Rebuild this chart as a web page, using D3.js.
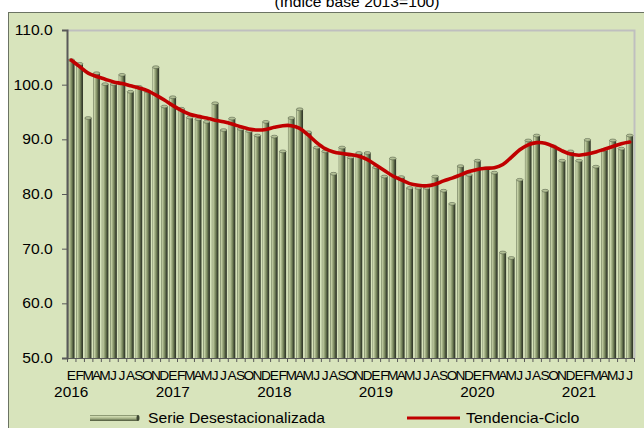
<!DOCTYPE html>
<html>
<head>
<meta charset="utf-8">
<script src="https://cdn.jsdelivr.net/npm/d3@7"></script>
<style>
	body { margin: 0; background: #ffffff; }
	svg { display: block; font-family: Arial, "Liberation Sans", sans-serif; }
	.axis path, .axis line { stroke: #595959; }
</style>
</head>
<body>
<svg width="644" height="428"></svg>
<script>
// Serie mensual ene-2016 a jul-2021
const meses = ["E", "F", "M", "A", "M", "J", "J", "A", "S", "O", "N", "D"];
const anios = ["2016", "2017", "2018", "2019", "2020", "2021"];
const yTicks = [50, 60, 70, 80, 90, 100, 110];

const serieDesestacionalizada = [
	104.5, 103.8, 93.9, 102.1, 100.1, 100.1, 101.8, 98.7, 99.6, 98.8, 103.2, 96.0,
	97.7, 95.6, 94.0, 93.7, 93.2, 96.6, 91.7, 93.8, 91.9, 91.5, 90.7, 93.2,
	90.5, 87.8, 93.9, 95.5, 91.3, 88.5, 87.8, 83.7, 88.5, 86.7, 87.5, 87.5,
	84.9, 83.2, 86.5, 83.1, 81.1, 81.1, 81.1, 83.2, 80.6, 78.2, 85.1, 83.5,
	86.1, 84.7, 83.9, 69.3, 68.3, 82.6, 89.8, 90.7, 80.6, 88.7, 86.1, 87.8,
	86.1, 89.9, 85.0, 88.1, 89.8, 88.3, 90.7
];

const tendenciaCiclo = [
	104.5, 103.3, 102.1, 101.5, 101.0, 100.5, 100.2, 99.8, 99.4, 98.9, 98.1, 97.2,
	96.2, 95.3, 94.6, 94.2, 93.9, 93.5, 93.2, 92.8, 92.3, 91.9, 91.7, 91.8,
	92.2, 92.5, 92.5, 92.0, 90.8, 89.4, 88.3, 87.7, 87.4, 87.2, 86.9, 86.3,
	85.3, 84.3, 83.3, 82.6, 81.9, 81.6, 81.5, 81.8, 82.4, 82.9, 83.5, 84.1,
	84.5, 84.7, 84.8, 85.4, 86.7, 88.1, 89.0, 89.4, 89.3, 88.7, 87.9, 87.3,
	87.1, 87.3, 87.7, 88.2, 88.7, 89.2, 89.5
];

const plot = { left: 67, right: 634, top: 30, bottom: 358 };
const stretch = 1.12;	// the source text is a bit wider than Arial

const svg = d3.select("svg");

const idx = d3.range(serieDesestacionalizada.length);

const x = d3.scaleBand()
	.domain(idx)
	.range([plot.left, plot.right])
	.paddingInner(0.22)
	.paddingOuter(0.11);

const xStep = d3.scaleBand()
	.domain(idx)
	.range([plot.left, plot.right]);

const y = d3.scaleLinear()
	.domain([50, 110])
	.range([plot.bottom, plot.top]);

// widen a text around its own x
function widen(sel, k) {
	sel.attr("transform", function() {
		const x0 = +d3.select(this).attr("x") || 0;
		return "translate(" + x0 + ",0) scale(" + k + ",1) translate(" + (-x0) + ",0)";
	});
}

// gradients
const defs = svg.append("defs");

const barGrad = defs.append("linearGradient")
	.attr("id", "barGrad")
	.attr("x1", "0%").attr("x2", "100%").attr("y1", "0%").attr("y2", "0%");
[["0%", "#5e6a4c"], ["14%", "#c9d5aa"], ["34%", "#a2af84"], ["58%", "#76845b"], ["82%", "#414a35"], ["100%", "#2e3426"]]
	.forEach(function(s) { barGrad.append("stop").attr("offset", s[0]).attr("stop-color", s[1]); });

const legGrad = defs.append("linearGradient")
	.attr("id", "legGrad")
	.attr("x1", "0%").attr("x2", "0%").attr("y1", "0%").attr("y2", "100%");
[["0%", "#6f7c58"], ["25%", "#cdd8ae"], ["60%", "#a2af84"], ["100%", "#4a5439"]]
	.forEach(function(s) { legGrad.append("stop").attr("offset", s[0]).attr("stop-color", s[1]); });

// chart area
svg.append("rect")
	.attr("x", 8.5)
	.attr("y", 12.5)
	.attr("width", 640)
	.attr("height", 420)
	.attr("fill", "#d8e4bc")
	.attr("stroke", "#6b7363")
	.attr("stroke-width", 1);

svg.append("text")
	.attr("x", 357)
	.attr("y", 7)
	.attr("text-anchor", "middle")
	.attr("font-size", "14px")
	.attr("fill", "#000")
	.text("(Índice base 2013=100)")
	.call(widen, stretch);

// plot frame (top / right)
svg.append("path")
	.attr("d", "M" + plot.left + "," + (plot.top + 0.5) + "H" + (plot.right + 0.5) + "V" + plot.bottom)
	.attr("fill", "none")
	.attr("stroke", "#bfbfbf")
	.attr("stroke-width", 2);

// bars
const bars = svg.append("g").attr("class", "bars");

bars.selectAll("rect")
	.data(serieDesestacionalizada)
	.enter().append("rect")
	.attr("x", function(d, i) { return x(i); })
	.attr("y", function(d) { return y(d); })
	.attr("width", x.bandwidth())
	.attr("height", function(d) { return plot.bottom - y(d); })
	.attr("fill", "url(#barGrad)");

bars.selectAll("ellipse")
	.data(serieDesestacionalizada)
	.enter().append("ellipse")
	.attr("cx", function(d, i) { return x(i) + x.bandwidth() / 2; })
	.attr("cy", function(d) { return y(d); })
	.attr("rx", x.bandwidth() / 2)
	.attr("ry", 1.4)
	.attr("fill", "#b4c197")
	.attr("stroke", "#4b5540")
	.attr("stroke-width", 0.5);

// trend line
const line = d3.line()
	.x(function(d, i) { return x(i) + x.bandwidth() / 2; })
	.y(function(d) { return y(d); })
	.curve(d3.curveCatmullRom.alpha(0.5));

svg.append("path")
	.datum(tendenciaCiclo)
	.attr("d", line)
	.attr("fill", "none")
	.attr("stroke", "#c00000")
	.attr("stroke-width", 3.6)
	.attr("stroke-linecap", "round");

// y axis
const yAxis = d3.axisLeft(y)
	.tickValues(yTicks)
	.tickSize(5)
	.tickPadding(9)
	.tickFormat(d3.format(".1f"));

svg.append("g")
	.attr("class", "y axis")
	.attr("transform", "translate(" + plot.left + ",0)")
	.call(yAxis)
	.call(function(g) {
		g.select(".domain").attr("stroke-width", 2);
		g.selectAll("text")
			.attr("x", -14.3 / stretch)
			.attr("font-size", "14px")
			.attr("fill", "#000")
			.attr("transform", "scale(" + stretch + ",1)");
	});

// x axis: ticks at band boundaries
const xg = svg.append("g").attr("class", "x axis");

xg.append("line")
	.attr("x1", plot.left).attr("x2", plot.right)
	.attr("y1", plot.bottom + 0.5).attr("y2", plot.bottom + 0.5)
	.attr("stroke", "#595959");

xg.selectAll(".tick")
	.data(idx.concat([idx.length]))
	.enter().append("line")
	.attr("class", "tick")
	.attr("x1", function(d) { return d < idx.length ? xStep(d) + 0.5 : plot.right + 0.5; })
	.attr("x2", function(d) { return d < idx.length ? xStep(d) + 0.5 : plot.right + 0.5; })
	.attr("y1", plot.bottom)
	.attr("y2", plot.bottom + 4)
	.attr("stroke", "#595959");

xg.selectAll(".mes")
	.data(idx)
	.enter().append("text")
	.attr("class", "mes")
	.attr("x", function(d) { return xStep(d) + xStep.bandwidth() / 2; })
	.attr("y", 380)
	.attr("text-anchor", "middle")
	.attr("font-size", "12.5px")
	.attr("fill", "#000")
	.text(function(d) { return meses[d % 12]; })
	.call(widen, 1.1);

xg.selectAll(".anio")
	.data(anios)
	.enter().append("text")
	.attr("class", "anio")
	.attr("x", function(d, i) { return xStep(i * 12) + xStep.bandwidth() / 2; })
	.attr("y", 397.5)
	.attr("text-anchor", "middle")
	.attr("font-size", "14px")
	.attr("fill", "#000")
	.text(function(d) { return d; })
	.call(widen, 1.1);

// legend
const legend = svg.append("g").attr("class", "legend");

legend.append("rect")
	.attr("x", 90)
	.attr("y", 415)
	.attr("width", 48)
	.attr("height", 6)
	.attr("fill", "url(#legGrad)");

legend.append("ellipse")
	.attr("cx", 138)
	.attr("cy", 418)
	.attr("rx", 1.5)
	.attr("ry", 3)
	.attr("fill", "#3c4532");

legend.append("text")
	.attr("x", 148)
	.attr("y", 423)
	.attr("font-size", "14px")
	.attr("fill", "#000")
	.text("Serie Desestacionalizada")
	.call(widen, stretch);

legend.append("line")
	.attr("x1", 407).attr("x2", 460)
	.attr("y1", 418).attr("y2", 418)
	.attr("stroke", "#c00000")
	.attr("stroke-width", 3);

legend.append("text")
	.attr("x", 466)
	.attr("y", 423)
	.attr("font-size", "14px")
	.attr("fill", "#000")
	.text("Tendencia-Ciclo")
	.call(widen, 1.14);
</script>
</body>
</html>
